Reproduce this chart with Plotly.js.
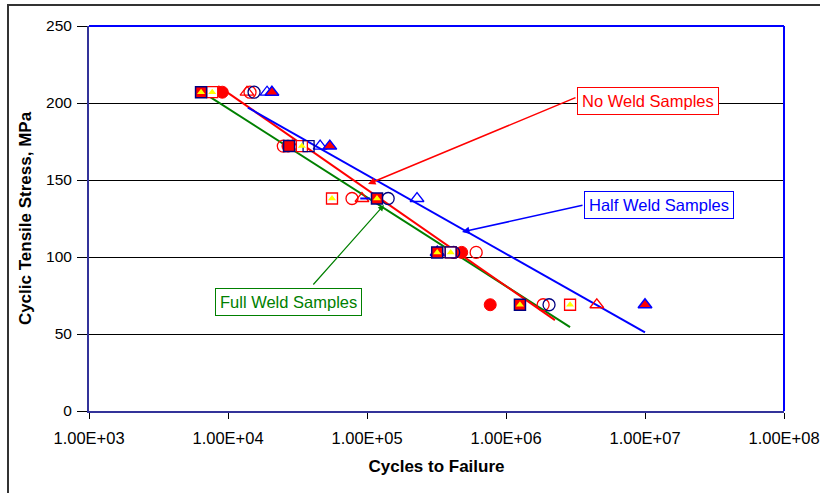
<!DOCTYPE html>
<html>
<head>
<meta charset="utf-8">
<script src="https://cdn.plot.ly/plotly-3.0.1.min.js"></script>
<style>
html,body{margin:0;padding:0;background:#fff;overflow:hidden;}
#chart{width:820px;height:493px;position:absolute;left:0;top:0;}
#frame{position:absolute;left:7px;top:4px;width:900px;height:600px;border:2px solid #333;pointer-events:none;}
</style>
</head>
<body>
<div id="chart"></div>
<div id="frame"></div>
<script>
// ---- data (cycles to failure, stress MPa) ----
var noWeldFilledX = [9.1e3, 2.7e4, 4.8e5, 7.7e5];
var noWeldFilledY = [207, 172, 103, 69];
var noWeldOpenX = [1.44e4, 2.5e4, 7.8e4, 6.1e5, 1.85e6];
var noWeldOpenY = [207, 172, 138, 103, 69];
var noWeldTriX = [1.37e4, 2.9e4, 9.2e4, 3.2e5, 4.5e6];
var noWeldTriY = [207, 172, 138, 103, 69];
var halfCircX = [1.54e4, 1.42e5, 4.2e5, 2.04e6];
var halfCircY = [207, 138, 103, 69];
var halfTriX = [1.91e4, 4.6e4, 2.29e5, 3.2e5];
var halfTriY = [207, 172, 138, 103];
var halfFilledTriX = [2.07e4, 5.4e4, 3.2e5, 1.0e7];
var halfFilledTriY = [207, 172, 103, 69];
var halfDashX = [9.7e4];
var halfDashY = [138];
var fullFilledSqX = [6.4e3, 2.75e4, 1.18e5, 3.2e5, 1.26e6];
var fullFilledSqY = [207, 172, 138, 103, 69];
var fullOpenSqX = [7.7e3, 3.4e4, 5.6e4, 4.0e5, 2.89e6];
var fullOpenSqY = [207, 172, 138, 103, 69];
var fullNavySqX = [3.8e4, 4.0e5];
var fullNavySqY = [172, 103];
var fullYellowX = [6.4e3, 7.7e3, 3.4e4, 5.6e4, 1.18e5, 3.2e5, 4.0e5, 1.26e6, 2.89e6];
var fullYellowY = [207, 207, 172, 138, 138, 103, 103, 69, 69];

// trend lines
var noWeldTrendX = [8.5e3, 2.25e6];
var noWeldTrendY = [211, 59];
var halfWeldTrendX = [1.39e4, 1.0e7];
var halfWeldTrendY = [197, 51];
var fullWeldTrendX = [6.3e3, 2.89e6];
var fullWeldTrendY = [208, 54.5];

// axis ticks
var xTickVals = [1e3, 1e4, 1e5, 1e6, 1e7, 1e8];
var xTickText = ["1.00E+03", "1.00E+04", "1.00E+05", "1.00E+06", "1.00E+07", "1.00E+08"];

var RED = '#ff0000', BLUE = '#0000ff', NAVY = '#000080', GREEN = '#008000', YEL = '#ffff00';

function pts(x, y, marker) {
  return {type:'scatter', mode:'markers', x:x, y:y, marker:marker, showlegend:false, hoverinfo:'x+y', cliponaxis:false};
}
function line(x, y, color) {
  return {type:'scatter', mode:'lines', x:x, y:y, line:{color:color, width:2}, showlegend:false, hoverinfo:'skip'};
}

var traces = [
  line(fullWeldTrendX, fullWeldTrendY, GREEN),
  line(noWeldTrendX, noWeldTrendY, RED),
  line(halfWeldTrendX, halfWeldTrendY, BLUE),
  pts(noWeldFilledX, noWeldFilledY, {symbol:'circle', size:12, color:RED, line:{color:RED, width:1}}),
  pts(noWeldOpenX, noWeldOpenY, {symbol:'circle-open', size:12, color:RED, line:{width:1.3}}),
  pts(noWeldTriX, noWeldTriY, {symbol:'triangle-up-open', size:12, color:RED, line:{width:1.3}}),
  pts(halfCircX, halfCircY, {symbol:'circle-open', size:12, color:NAVY, line:{width:1.3}}),
  pts(halfTriX, halfTriY, {symbol:'triangle-up-open', size:12, color:BLUE, line:{width:1.3}}),
  pts(halfFilledTriX, halfFilledTriY, {symbol:'triangle-up', size:12, color:RED, line:{color:BLUE, width:1.5}}),
  pts(halfDashX, halfDashY, {symbol:'line-ew', size:7, color:BLUE, line:{color:BLUE, width:2}}),
  pts(fullOpenSqX, fullOpenSqY, {symbol:'square', size:11, color:'#ffffff', line:{color:RED, width:1.3}}),
  pts(fullFilledSqX, fullFilledSqY, {symbol:'square', size:11, color:RED, line:{color:NAVY, width:1.5}}),
  pts(fullNavySqX, fullNavySqY, {symbol:'square-open', size:11, color:NAVY, line:{width:1.3}}),
  pts(fullYellowX, fullYellowY, {symbol:'triangle-up', size:7, color:YEL, line:{width:0}})
];

function L(px) { return 3 + (px - 89) / 139; }      // pixel -> log10 cycles (layout helper for annotations)
function S(py) { return (411 - py) / 1.54; }          // pixel -> stress

var annFont = {family:'Liberation Sans, Arial, sans-serif', size:16.5};
var layout = {
  width:820, height:493,
  margin:{l:89, r:36, t:26, b:82},
  paper_bgcolor:'#ffffff', plot_bgcolor:'#ffffff',
  font:{family:'Liberation Sans, Arial, sans-serif', size:15, color:'#000'},
  xaxis:{
    type:'log', range:[3,8], tickvals:xTickVals, ticktext:xTickText,
    ticks:'outside', ticklen:6, tickcolor:'#000', showgrid:false, zeroline:false,
    showline:true, linecolor:'#333399', linewidth:2,
    tickfont:{size:16.5}, ticklabelstandoff:5,
    title:{text:'<b>Cycles to Failure</b>', font:{size:17}, standoff:14}
  },
  yaxis:{
    range:[0,250], dtick:50, tick0:0,
    ticks:'outside', ticklen:10, tickcolor:'#000',
    showgrid:true, gridcolor:'#000', gridwidth:1, zeroline:false,
    showline:true, linecolor:'#333399', linewidth:2,
    tickfont:{size:15.5}, ticklabelstandoff:2,
    title:{text:'<b>Cyclic Tensile Stress, MPa</b>', font:{size:17}, standoff:10}
  },
  shapes:[
    {type:'line', xref:'paper', yref:'paper', x0:0, x1:1, y0:1, y1:1, line:{color:BLUE, width:2}},
    {type:'line', xref:'paper', yref:'paper', x0:1, x1:1, y0:0, y1:1, line:{color:BLUE, width:2}}
  ],
  annotations:[
    {x:L(647.5), y:S(101), xref:'x', yref:'y', text:'No Weld Samples', showarrow:false,
     font:Object.assign({color:RED}, annFont), bordercolor:RED, borderwidth:1, borderpad:4, bgcolor:'#fff'},
    {x:L(659), y:S(205), xref:'x', yref:'y', text:'Half Weld Samples', showarrow:false,
     font:Object.assign({color:BLUE}, annFont), bordercolor:BLUE, borderwidth:1, borderpad:4, bgcolor:'#fff'},
    {x:L(288.5), y:S(301.5), xref:'x', yref:'y', text:'Full Weld Samples', showarrow:false,
     font:Object.assign({color:GREEN}, annFont), bordercolor:GREEN, borderwidth:1, borderpad:4, bgcolor:'#fff'},
    {x:L(368), y:S(184), xref:'x', yref:'y', ax:L(577), ay:S(97), axref:'x', ayref:'y', text:'',
     showarrow:true, arrowhead:2, arrowsize:1, arrowwidth:1.5, arrowcolor:RED},
    {x:L(462), y:S(232), xref:'x', yref:'y', ax:L(584), ay:S(205), axref:'x', ayref:'y', text:'',
     showarrow:true, arrowhead:2, arrowsize:1, arrowwidth:1.5, arrowcolor:BLUE},
    {x:L(384), y:S(205), xref:'x', yref:'y', ax:L(312), ay:S(286), axref:'x', ayref:'y', text:'',
     showarrow:true, arrowhead:2, arrowsize:1, arrowwidth:1.2, arrowcolor:GREEN}
  ]
};

Plotly.newPlot('chart', traces, layout, {displayModeBar:false, staticPlot:true});
</script>
</body>
</html>
